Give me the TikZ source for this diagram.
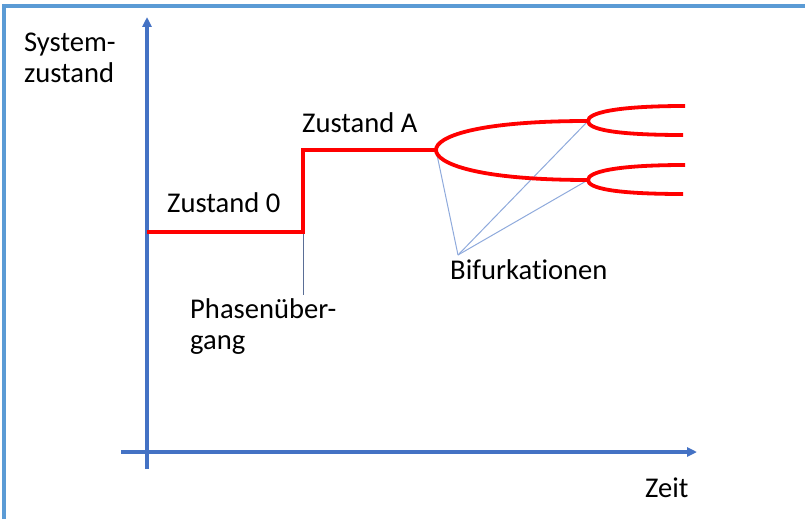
\documentclass[tikz,border=0pt]{standalone}
\usepackage{fontspec}
\setmainfont{Carlito}[Ligatures=NoCommon]
\usetikzlibrary{arrows.meta}
\definecolor{axisblue}{RGB}{68,114,196}
\definecolor{frameblue}{RGB}{91,155,213}
\definecolor{zustred}{RGB}{255,0,0}
\definecolor{hintblue}{RGB}{143,170,220}
\definecolor{phaseblue}{RGB}{90,110,150}

\begin{document}
\begin{tikzpicture}[x=1bp,y=-1bp,>={Triangle[length=10bp,width=9bp]},
    every node/.style={inner sep=0pt,font=\fontsize{28.6bp}{31bp}\selectfont},
    axis/.style={draw=axisblue,line width=3.2bp},
    state/.style={draw=zustred,line width=3.8bp},
    hint/.style={draw=hintblue,line width=1bp}]
  \useasboundingbox (0,0) rectangle (805,519);
  \draw[frameblue,line width=3.2bp] (4,519) -- (4,6) -- (805,6);

  % axes
  \coordinate (ybot) at (147,469);
  \coordinate (ytop) at (147,17);
  \coordinate (xleft) at (121,452);
  \coordinate (xright) at (697,452);
  \draw[axis,->] (ybot) -- (ytop);
  \draw[axis,->] (xleft) -- (xright);

  % states
  \coordinate (s0) at (147,232);
  \coordinate (jump) at (303,232);
  \coordinate (sA) at (303,150);
  \coordinate (b1) at (436,150);
  \coordinate (b2) at (588,121);
  \coordinate (b3) at (588,180);
  \coordinate (pend) at (303,295);
  \coordinate (bp) at (458,255);

  % hints
  \draw[draw=phaseblue,line width=1bp] (jump) -- (pend);
  \foreach \t in {b1,b2,b3}
    \draw[hint] (bp) -- (\t);

  \draw[state] (s0) -- (jump) -- (sA) -- (b1);
  \draw[state] (b1) .. controls (436,137) and (475,121) .. (b2);
  \draw[state] (b1) .. controls (436,163) and (475,180) .. (b3);
  \foreach \f in {b2,b3} {
    \draw[state] (\f) .. controls +(0,-8) and +(-70,0) .. ++(97,-15);
    \draw[state] (\f) .. controls +(0,8) and +(-70,0) .. ++(95,14);
  }

  % labels
  \node[anchor=north west,align=left] (ylbl) at (24,33) {System-\\zustand};
  \node[anchor=base west] (z0) at (167,213) {Zustand 0};
  \node[anchor=base west] (zA) at (302,133) {Zustand A};
  \node[anchor=north west,align=left] (phase) at (190,298) {Phasenüber-\\gang};
  \node[anchor=base west] (bif) at (450,280) {Bifurkationen};
  \node[anchor=base west] (zeit) at (645,497) {Zeit};
\end{tikzpicture}
\end{document}
